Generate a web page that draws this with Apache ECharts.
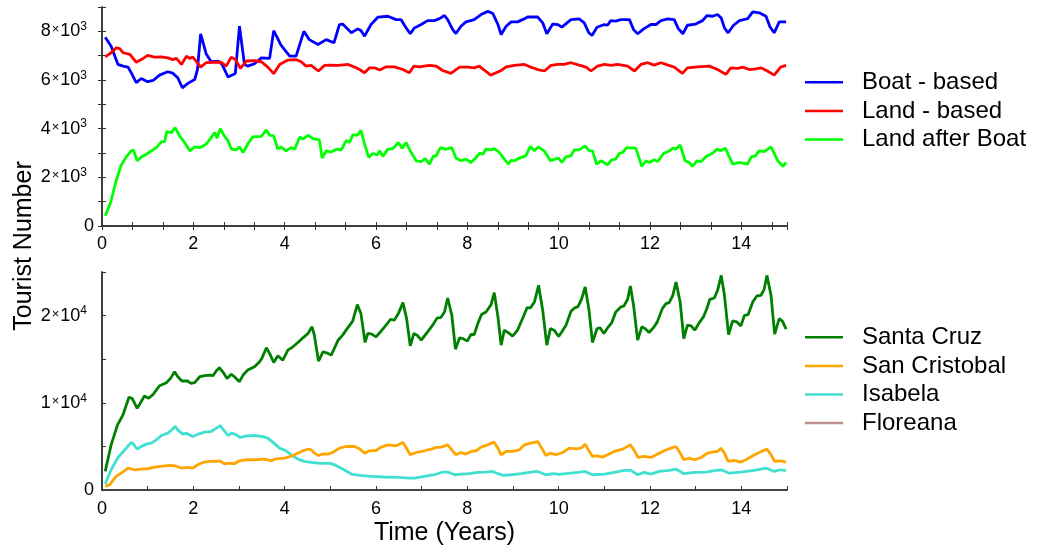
<!DOCTYPE html>
<html lang="en">
<head>
    <meta charset="UTF-8">
    <title>Tourist Number</title>
    <style>
        html, body { margin: 0; padding: 0; background: #fff; }
        #chart { width: 1040px; height: 552px; }
    </style>
</head>
<body>
    <div id="chart"></div>
    <script src="https://cdn.jsdelivr.net/npm/echarts@6/dist/echarts.min.js"></script>
    <script>
        // [time (years), tourists]
        const boatBased = [[0.07,7760],[0.2,7390],[0.35,6640],[0.46,6570],[0.57,6530],[0.64,6300],[0.75,5890],[0.86,6060],[1.0,5930],[1.12,5980],[1.26,6200],[1.44,6340],[1.55,6280],[1.66,6090],[1.76,5680],[1.88,5860],[2.03,6020],[2.09,6430],[2.16,7900],[2.28,7080],[2.39,6750],[2.54,6780],[2.63,6640],[2.76,6120],[2.92,6270],[3.01,8210],[3.12,6640],[3.19,6570],[3.34,6670],[3.49,6910],[3.67,6890],[3.76,8030],[3.92,7430],[4.11,6980],[4.25,6980],[4.42,8000],[4.54,7660],[4.73,7460],[4.91,7660],[5.08,7530],[5.2,8280],[5.27,8300],[5.46,7940],[5.6,8100],[5.67,8030],[5.75,7800],[5.89,8280],[6.04,8580],[6.26,8620],[6.44,8480],[6.55,8480],[6.66,8140],[6.75,7900],[6.84,8140],[6.99,8280],[7.13,8440],[7.28,8440],[7.39,8520],[7.5,8650],[7.57,8480],[7.68,8070],[7.75,7910],[7.86,8210],[7.97,8390],[8.15,8480],[8.3,8690],[8.45,8820],[8.56,8730],[8.67,8280],[8.74,7870],[8.85,8210],[8.96,8390],[9.1,8390],[9.21,8480],[9.32,8590],[9.54,8590],[9.65,8350],[9.74,7900],[9.87,8300],[9.98,8280],[10.07,8170],[10.27,8480],[10.45,8510],[10.56,8350],[10.66,7940],[10.73,7830],[10.84,8170],[11.0,8280],[11.07,8250],[11.14,8440],[11.25,8420],[11.36,8480],[11.55,8480],[11.64,8070],[11.73,7900],[11.87,8110],[12.02,8280],[12.13,8280],[12.24,8440],[12.39,8510],[12.53,8480],[12.62,8110],[12.72,7900],[12.82,8250],[13.0,8300],[13.15,8440],[13.25,8650],[13.37,8620],[13.48,8690],[13.56,8550],[13.63,8140],[13.71,7940],[13.83,8250],[13.96,8440],[14.14,8520],[14.25,8800],[14.39,8760],[14.54,8620],[14.63,8170],[14.72,7940],[14.83,8390],[14.98,8390]];
        const landBased = [[0.07,6950],[0.2,7120],[0.31,7320],[0.39,7290],[0.46,7120],[0.61,7050],[0.75,6730],[0.86,6840],[1.0,7010],[1.15,6940],[1.3,6950],[1.44,6910],[1.55,6840],[1.63,6890],[1.74,6640],[1.85,6980],[1.92,6890],[1.99,6940],[2.06,6780],[2.16,6530],[2.28,6710],[2.47,6730],[2.61,6730],[2.72,6570],[2.83,6940],[2.92,6840],[3.03,6480],[3.16,6780],[3.34,6800],[3.49,6750],[3.63,6530],[3.76,6260],[3.89,6640],[4.07,6820],[4.25,6840],[4.36,6750],[4.47,6570],[4.58,6600],[4.74,6370],[4.87,6600],[5.0,6610],[5.17,6600],[5.39,6640],[5.53,6530],[5.64,6430],[5.75,6300],[5.86,6500],[5.97,6500],[6.08,6410],[6.22,6540],[6.4,6540],[6.59,6430],[6.73,6300],[6.83,6570],[6.95,6540],[7.06,6570],[7.17,6600],[7.32,6570],[7.46,6390],[7.64,6270],[7.83,6530],[8.01,6530],[8.15,6500],[8.26,6570],[8.37,6410],[8.51,6200],[8.63,6300],[8.74,6390],[8.85,6540],[9.03,6600],[9.25,6640],[9.39,6530],[9.54,6430],[9.69,6370],[9.83,6600],[9.98,6640],[10.12,6640],[10.27,6710],[10.45,6610],[10.6,6530],[10.71,6370],[10.85,6570],[11.0,6640],[11.15,6600],[11.29,6640],[11.51,6570],[11.66,6370],[11.8,6640],[11.95,6710],[12.09,6610],[12.24,6710],[12.53,6530],[12.71,6270],[12.82,6500],[13.04,6540],[13.3,6570],[13.48,6430],[13.66,6230],[13.77,6500],[13.92,6480],[14.03,6530],[14.17,6430],[14.32,6460],[14.43,6500],[14.57,6370],[14.72,6200],[14.86,6530],[14.98,6600]];
        const landAfterBoat = [[0.07,420],[0.19,970],[0.31,1860],[0.42,2500],[0.53,2840],[0.64,3090],[0.69,3120],[0.77,2680],[0.86,2840],[0.97,2950],[1.08,3090],[1.19,3220],[1.3,3460],[1.37,3470],[1.42,3880],[1.52,3840],[1.6,4040],[1.7,3700],[1.81,3430],[1.92,3090],[2.03,3250],[2.14,3220],[2.28,3360],[2.39,3630],[2.47,3840],[2.52,3610],[2.59,4000],[2.68,3700],[2.76,3500],[2.83,3160],[2.94,3130],[3.01,3250],[3.09,3020],[3.19,3360],[3.3,3660],[3.49,3680],[3.6,3950],[3.67,3730],[3.76,3700],[3.85,3160],[3.92,3250],[4.03,3090],[4.14,3220],[4.22,3160],[4.33,3660],[4.4,3570],[4.51,3730],[4.62,3590],[4.76,3540],[4.82,2790],[4.91,3090],[5.02,3040],[5.14,3160],[5.24,3130],[5.35,3520],[5.42,3430],[5.49,3740],[5.6,3740],[5.67,3930],[5.73,3500],[5.84,2810],[5.93,2980],[6.03,2920],[6.08,3090],[6.15,2860],[6.26,3160],[6.37,3180],[6.49,3430],[6.57,3200],[6.66,3430],[6.77,3020],[6.88,2680],[6.99,2650],[7.08,2770],[7.17,2540],[7.26,2880],[7.31,2860],[7.41,3220],[7.53,3160],[7.66,3220],[7.75,2790],[7.86,2680],[7.97,2750],[8.08,2610],[8.19,2810],[8.27,2990],[8.34,2950],[8.41,3160],[8.52,3130],[8.59,3180],[8.7,3020],[8.81,2750],[8.9,2540],[8.96,2700],[9.03,2680],[9.14,2790],[9.28,2880],[9.38,3270],[9.47,3090],[9.55,3250],[9.68,3090],[9.82,2680],[9.91,2750],[10.0,2790],[10.07,2610],[10.16,2840],[10.27,2880],[10.34,3130],[10.45,3130],[10.58,3290],[10.67,3090],[10.74,3090],[10.83,2540],[10.93,2680],[11.07,2510],[11.16,2720],[11.25,2750],[11.33,2990],[11.4,3020],[11.49,3220],[11.69,3200],[11.82,2450],[11.91,2680],[11.99,2610],[12.09,2720],[12.17,2650],[12.3,2990],[12.39,3050],[12.5,3200],[12.57,3160],[12.66,3330],[12.77,2680],[12.86,2610],[12.93,2450],[13.03,2680],[13.12,2650],[13.23,2860],[13.37,2990],[13.47,3160],[13.55,3090],[13.65,3200],[13.81,2540],[13.95,2610],[14.13,2540],[14.22,2840],[14.31,2880],[14.39,3090],[14.5,3060],[14.65,3250],[14.8,2680],[14.91,2450],[14.98,2610]];

        const santaCruz = [[0.07,2130],[0.2,5180],[0.34,7470],[0.46,8610],[0.59,10630],[0.66,10520],[0.77,9370],[0.85,10060],[0.93,10780],[1.02,10520],[1.12,10970],[1.26,11960],[1.41,12310],[1.5,12800],[1.59,13560],[1.66,12990],[1.75,12500],[1.87,12500],[1.95,12230],[2.03,12310],[2.14,12990],[2.25,13110],[2.36,13180],[2.43,13110],[2.5,13640],[2.57,14020],[2.67,13370],[2.74,12800],[2.83,13260],[2.9,12990],[3.01,12420],[3.09,13180],[3.19,13750],[3.34,14140],[3.45,14710],[3.5,15090],[3.6,16310],[3.67,15660],[3.76,14630],[3.85,15390],[3.96,14900],[4.07,16040],[4.18,16420],[4.29,16920],[4.4,17450],[4.51,17950],[4.6,18710],[4.65,17760],[4.74,14780],[4.84,15850],[4.95,15660],[5.02,15470],[5.17,17180],[5.27,17760],[5.38,18590],[5.49,19360],[5.59,21260],[5.67,20230],[5.76,16920],[5.82,17950],[5.91,17870],[6.0,17560],[6.11,18210],[6.22,18900],[6.32,19580],[6.4,19470],[6.49,20230],[6.59,21490],[6.67,19660],[6.75,16540],[6.83,17950],[6.9,17760],[6.99,17180],[7.13,18140],[7.24,18900],[7.34,19740],[7.42,19770],[7.5,20420],[7.57,22020],[7.66,20040],[7.74,16150],[7.83,17450],[7.9,17370],[8.0,17070],[8.08,17830],[8.15,17830],[8.23,19090],[8.31,20120],[8.41,20420],[8.52,21260],[8.59,22630],[8.67,19850],[8.74,16610],[8.81,18330],[8.92,17950],[8.99,17640],[9.1,18330],[9.21,19660],[9.31,20920],[9.38,20880],[9.47,21570],[9.56,23470],[9.65,20610],[9.74,16610],[9.82,18520],[9.9,18330],[10.0,17600],[10.07,18140],[10.16,18900],[10.27,20500],[10.36,20920],[10.42,20990],[10.5,21870],[10.58,23280],[10.66,20800],[10.74,16920],[10.84,18520],[10.91,18590],[10.99,17950],[11.07,18590],[11.16,19160],[11.25,20420],[11.36,20990],[11.43,21110],[11.51,21870],[11.57,23390],[11.64,21180],[11.73,17180],[11.82,18710],[11.89,18520],[11.98,18060],[12.09,18710],[12.16,19280],[12.27,20800],[12.35,21370],[12.42,21490],[12.5,22330],[12.57,23850],[12.66,21570],[12.74,17370],[12.82,18900],[12.9,18820],[12.98,18330],[13.08,19200],[13.17,19850],[13.25,20880],[13.31,21870],[13.41,22020],[13.48,22900],[13.56,24610],[13.63,22330],[13.72,17830],[13.81,19390],[13.9,19280],[13.99,18820],[14.07,20040],[14.15,20120],[14.25,21570],[14.34,22250],[14.43,22330],[14.5,23010],[14.56,24610],[14.65,22330],[14.73,17870],[14.83,19660],[14.9,19360],[14.98,18440]];
        const sanCristobal = [[0.07,420],[0.17,610],[0.31,1560],[0.42,1940],[0.57,2520],[0.71,2320],[0.86,2400],[1.01,2440],[1.15,2630],[1.33,2740],[1.48,2820],[1.59,2780],[1.74,2520],[1.88,2590],[1.99,2520],[2.1,2900],[2.21,3160],[2.36,3280],[2.5,3280],[2.57,3350],[2.68,3010],[2.79,3090],[2.9,3010],[3.01,3350],[3.16,3470],[3.38,3470],[3.52,3540],[3.63,3470],[3.71,3350],[3.81,3580],[4.0,3660],[4.13,3850],[4.25,4120],[4.4,4500],[4.52,4690],[4.58,4610],[4.65,4230],[4.74,3960],[4.84,4150],[4.95,4120],[5.05,4300],[5.2,4800],[5.35,4990],[5.53,4990],[5.64,4720],[5.75,4230],[5.86,4500],[6.0,4530],[6.11,4920],[6.26,5180],[6.44,5070],[6.59,5450],[6.66,4880],[6.75,4040],[6.88,4300],[7.06,4500],[7.21,4690],[7.32,4880],[7.43,4920],[7.57,5180],[7.66,4610],[7.75,4040],[7.86,4300],[7.97,4120],[8.08,4420],[8.19,4500],[8.3,4920],[8.45,5180],[8.58,5490],[8.67,4800],[8.74,4040],[8.85,4420],[8.99,4420],[9.14,4610],[9.25,5180],[9.39,5370],[9.54,5560],[9.63,4800],[9.72,3960],[9.82,4230],[9.94,4040],[10.09,4300],[10.23,4800],[10.38,4720],[10.49,4800],[10.58,5260],[10.65,4610],[10.74,3850],[10.85,3920],[10.96,3770],[11.07,4040],[11.22,4420],[11.4,4690],[11.57,5180],[11.66,4500],[11.74,3730],[11.87,3850],[12.02,3730],[12.17,4120],[12.31,4500],[12.46,4800],[12.57,4990],[12.64,4420],[12.74,3470],[12.86,3660],[12.97,3470],[13.12,3730],[13.26,4230],[13.37,4340],[13.48,4420],[13.55,4800],[13.63,4230],[13.71,3280],[13.84,3390],[13.98,3200],[14.1,3470],[14.25,3920],[14.39,4300],[14.56,4690],[14.65,4040],[14.73,3280],[14.86,3350],[14.98,3200]];
        const isabela = [[0.07,690],[0.2,2320],[0.35,3730],[0.5,4610],[0.61,5300],[0.66,5450],[0.77,4690],[0.86,4990],[0.97,5260],[1.08,5370],[1.19,5750],[1.3,6250],[1.44,6520],[1.53,6900],[1.6,7280],[1.68,6780],[1.77,6400],[1.85,6520],[1.99,6130],[2.1,6400],[2.25,6630],[2.39,6710],[2.48,7010],[2.59,7390],[2.68,6780],[2.76,6250],[2.84,6520],[2.94,6330],[3.03,6020],[3.16,6210],[3.34,6250],[3.52,6130],[3.63,5940],[3.74,5490],[3.89,4800],[4.03,4500],[4.14,4040],[4.29,3540],[4.43,3280],[4.58,3160],[4.73,3090],[4.87,3050],[4.98,3050],[5.09,2900],[5.27,2400],[5.46,1830],[5.64,1680],[5.89,1560],[6.18,1490],[6.47,1450],[6.73,1370],[6.84,1370],[7.06,1560],[7.28,1750],[7.46,2060],[7.57,2060],[7.72,1750],[7.86,1830],[8.04,1870],[8.23,2020],[8.41,2060],[8.56,2130],[8.67,1870],[8.78,1680],[8.96,1750],[9.18,1870],[9.36,2020],[9.54,2130],[9.72,1750],[9.9,1870],[10.0,1780],[10.16,1870],[10.42,2020],[10.58,2130],[10.74,1750],[11.0,1830],[11.25,2060],[11.44,2250],[11.58,2250],[11.73,1750],[11.87,2020],[12.02,1830],[12.2,2130],[12.42,2250],[12.57,2400],[12.74,1870],[12.97,2020],[13.23,2060],[13.41,2210],[13.56,2320],[13.72,1940],[13.99,2060],[14.28,2250],[14.54,2520],[14.72,2130],[14.86,2320],[14.98,2210]];
        // Floreana is not visible in the plot: it sits on the zero line
        const floreana = [[0.07,0],[3,0],[6,0],[9,0],[12,0],[14.98,0]];

        const font = 'Liberation Sans, Arial, sans-serif'
        const frame = { show: true, lineStyle: { color: '#333', width: 1.5 } }

        // 8000 -> 8×10^3
        function sciLabel(v) {
            if (v === 0) return '0'
            const e = Math.floor(Math.log10(v) + 1e-9)
            const m = Math.round(v / Math.pow(10, e))
            return m + '{x|×}10{s|' + e + '}'
        }
        const richSci = {
            x: { fontSize: 13, fontFamily: font, color: '#000', padding: [0, 1, 3, 1] },
            s: { fontSize: 12, fontFamily: font, color: '#000', verticalAlign: 'top', padding: [0, 7, 9, 0] }
        }
        function evenYear(v) {
            const r = Math.round(v)
            return (Math.abs(v - r) < 1e-6 && r % 2 === 0) ? String(r) : ''
        }
        const legendText = { fontSize: 24, fontFamily: font, color: '#000', lineHeight: 28.6, padding: [0, 0, 0, 14] }

        const myChart = echarts.init(document.getElementById('chart'))
        const option = {
            animation: false,
            backgroundColor: '#fff',
            grid: [
                { left: 102, top: 7, width: 685, height: 219 },
                { left: 102, top: 272, width: 685, height: 218 }
            ],
            xAxis: [
                {
                    gridIndex: 0, type: 'value', min: 0, max: 15, interval: 2 / 3,
                    axisLine: frame, splitLine: { show: false },
                    axisTick: { inside: true, length: 4, lineStyle: { color: '#333' } },
                    axisLabel: { margin: 9, fontSize: 18, fontFamily: font, color: '#000', formatter: evenYear }
                },
                {
                    gridIndex: 0, type: 'value', position: 'top', min: 0, max: 15, interval: 2 / 3,
                    axisLine: frame, splitLine: { show: false },
                    axisTick: { inside: true, length: 4, lineStyle: { color: '#333' } },
                    axisLabel: { show: false }
                },
                {
                    gridIndex: 1, type: 'value', min: 0, max: 15, interval: 1, z: 5,
                    axisLine: frame, splitLine: { show: false },
                    axisTick: { inside: true, length: 4, lineStyle: { color: '#333' } },
                    axisLabel: { margin: 10, fontSize: 18, fontFamily: font, color: '#000', formatter: evenYear },
                    name: 'Time (Years)', nameLocation: 'middle', nameGap: 31,
                    nameTextStyle: { fontSize: 25, fontFamily: font, color: '#000' }
                },
                {
                    gridIndex: 1, type: 'value', position: 'top', min: 0, max: 15,
                    axisLine: frame, splitLine: { show: false },
                    axisTick: { show: false }, axisLabel: { show: false }
                }
            ],
            yAxis: [
                {
                    gridIndex: 0, type: 'value', min: 0, max: 9000, interval: 1000,
                    axisLine: frame, splitLine: { show: false },
                    axisTick: { inside: true, length: 4, lineStyle: { color: '#333' } },
                    axisLabel: {
                        margin: 8, fontSize: 18, fontFamily: font, color: '#000', rich: richSci,
                        formatter: v => v % 2000 === 0 ? sciLabel(v) : ''
                    }
                },
                {
                    gridIndex: 0, type: 'value', position: 'right', min: 0, max: 9000, interval: 1000,
                    axisLine: frame, splitLine: { show: false },
                    axisTick: { inside: true, length: 4, lineStyle: { color: '#333' } },
                    axisLabel: { show: false }
                },
                {
                    gridIndex: 1, type: 'value', min: 0, max: 25000, interval: 5000, z: 5,
                    axisLine: frame, splitLine: { show: false },
                    axisTick: { inside: true, length: 4, lineStyle: { color: '#333' } },
                    axisLabel: {
                        margin: 8, fontSize: 18, fontFamily: font, color: '#000', rich: richSci,
                        formatter: v => v % 10000 === 0 ? sciLabel(v) : ''
                    }
                },
                {
                    gridIndex: 1, type: 'value', position: 'right', min: 0, max: 25000,
                    axisLine: frame, splitLine: { show: false },
                    axisTick: { show: false }, axisLabel: { show: false }
                }
            ],
            legend: [
                {
                    data: ['Boat - based', 'Land - based', 'Land after Boat'],
                    orient: 'vertical', left: 805, top: 68, itemGap: 0, padding: 0,
                    icon: 'rect', itemWidth: 38, itemHeight: 2.5,
                    textStyle: legendText
                },
                {
                    data: ['Santa Cruz', 'San Cristobal', 'Isabela', 'Floreana'],
                    orient: 'vertical', left: 805, top: 323, itemGap: 0, padding: 0,
                    icon: 'rect', itemWidth: 38, itemHeight: 2.5,
                    textStyle: legendText
                }
            ],
            graphic: [{
                type: 'text', x: 24, y: 246, rotation: Math.PI / 2,
                style: { text: 'Tourist Number', fontSize: 25, fontFamily: font, fill: '#000', align: 'center', verticalAlign: 'middle' }
            }],
            series: [
                { name: 'Boat - based', data: boatBased, color: '#0000ff' },
                { name: 'Land - based', data: landBased, color: '#ff0000' },
                { name: 'Land after Boat', data: landAfterBoat, color: '#00ff00' },
                { name: 'Floreana', data: floreana, color: '#bc8f8f', xAxisIndex: 2, yAxisIndex: 2, z: 1, lineStyle: { width: 1.2 } },
                { name: 'Isabela', data: isabela, color: '#40e0d0', xAxisIndex: 2, yAxisIndex: 2 },
                { name: 'San Cristobal', data: sanCristobal, color: '#ffa500', xAxisIndex: 2, yAxisIndex: 2 },
                { name: 'Santa Cruz', data: santaCruz, color: '#008000', xAxisIndex: 2, yAxisIndex: 2 }
            ].map(s => Object.assign({
                type: 'line', xAxisIndex: 0, yAxisIndex: 0,
                showSymbol: false, symbol: 'none',
                lineStyle: { width: 2.8 }
            }, s))
        }

        myChart.setOption(option)
    </script>
</body>
</html>
